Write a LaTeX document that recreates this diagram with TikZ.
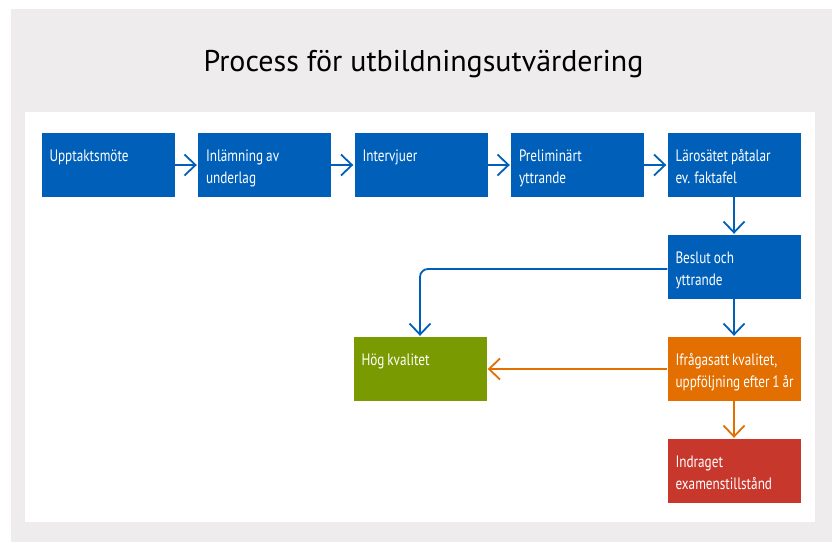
\documentclass[tikz,border=0pt]{standalone}
\usepackage{fontspec}
\setmainfont{PT Sans}
\newfontfamily\boxfont[FakeStretch=0.8]{PT Sans}
\usetikzlibrary{arrows.meta}
\definecolor{bggray}{RGB}{238,236,236}
\definecolor{ukblue}{RGB}{0,96,185}
\definecolor{ukgreen}{RGB}{122,154,1}
\definecolor{ukorange}{RGB}{227,111,0}
\definecolor{ukred}{RGB}{200,55,44}
\newcommand\bt[1]{\parbox[c][64pt][t]{133pt}{\raggedright\leftskip=8pt\boxfont\fontsize{16.5}{22}\selectfont\spaceskip=0.18em plus 0.05em\rule{0pt}{28pt}#1}}
\begin{document}
\begin{tikzpicture}[x=1pt,y=-1pt,
  stepbox/.style={inner sep=0pt, minimum width=133pt, minimum height=64pt, text=white},
  flow/.style={line width=1.8pt, -{Straight Barb[length=11pt,width=21pt]}, shorten >=1pt}]
\useasboundingbox (0,0) rectangle (832,542);
\fill[white] (0,0) rectangle (832,542);
\fill[bggray] (11,9) rectangle (832,542);
\fill[white] (25,112) rectangle (815,522);
\node[font=\fontsize{30}{33}\selectfont, anchor=base] (title) at (423.5,71) {Process för utbildningsutvärdering};
\node[stepbox, fill=ukblue] (b1) at (108,165) {\bt{Upptaktsmöte}};
\node[stepbox, fill=ukblue] (b2) at (264.5,165) {\bt{Inlämning av\\underlag}};
\node[stepbox, fill=ukblue] (b3) at (421,165) {\bt{Intervjuer}};
\node[stepbox, fill=ukblue] (b4) at (577.5,165) {\bt{Preliminärt\\yttrande}};
\node[stepbox, fill=ukblue] (b5) at (734,165) {\bt{Lärosätet påtalar\\ev. faktafel}};
\node[stepbox, fill=ukblue] (b6) at (734,267) {\bt{Beslut och\\yttrande}};
\node[stepbox, fill=ukorange] (b7) at (734,369) {\bt{Ifrågasatt kvalitet,\\uppföljning efter 1 år}};
\node[stepbox, fill=ukgreen] (hog) at (420,369) {\bt{Hög kvalitet}};
\node[stepbox, fill=ukred] (b9) at (734,471) {\bt{Indraget\\examenstillstånd}};
\draw[flow, ukblue] (b1) -- (b2);
\draw[flow, ukblue] (b2) -- (b3);
\draw[flow, ukblue] (b3) -- (b4);
\draw[flow, ukblue] (b4) -- (b5);
\draw[flow, ukblue] (b5) -- (b6);
\draw[flow, ukblue] (b6) -- (b7);
\draw[flow, ukblue, rounded corners=8pt] ([yshift=-2pt]b6.west) -| (hog.north);
\draw[flow, ukorange] (b7) -- (hog);
\draw[flow, ukorange] (b7) -- (b9);
\end{tikzpicture}
\end{document}
